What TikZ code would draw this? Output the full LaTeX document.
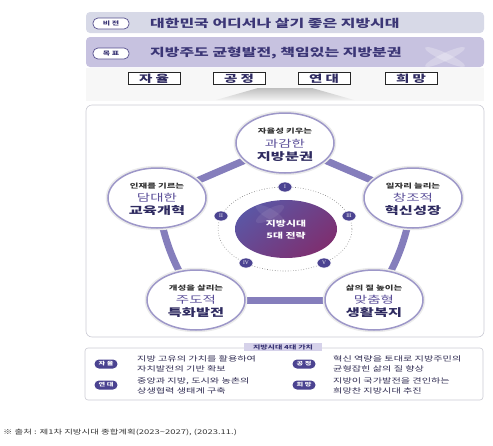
\documentclass[tikz,border=0pt]{standalone}
\usepackage{fontspec}
\setmainfont{Noto Sans CJK KR}[FakeStretch=1.45]
\newfontfamily\numfont{Liberation Serif}
\usetikzlibrary{shapes.geometric}
\definecolor{bnA}{HTML}{D7D9E7}
\definecolor{bnB}{HTML}{C7C2E0}
\definecolor{ttl}{HTML}{3B3676}
\definecolor{pillb}{HTML}{57508E}
\definecolor{cbord}{HTML}{9D97C8}
\definecolor{bandc}{HTML}{857EBC}
\definecolor{glow}{HTML}{DAD9E6}
\definecolor{dk}{HTML}{2E2A60}
\definecolor{mid}{HTML}{5B4F99}
\definecolor{mark}{HTML}{4B4391}
\definecolor{boxl}{HTML}{CBCBD4}
\definecolor{tabc}{HTML}{D6D2EA}
\definecolor{txt}{HTML}{302C52}
\definecolor{discA}{HTML}{5C56A4}
\definecolor{discB}{HTML}{7E2F70}
\pgfdeclareradialshading{ringglow}{\pgfpoint{0bp}{0bp}}{color(0bp)=(white); color(28bp)=(white); color(38bp)=(glow); color(45bp)=(glow!70!white); color(50bp)=(white)}
\tikzset{
  banner/.style={rectangle, rounded corners=4pt, inner sep=0pt, minimum width=398pt},
  tagpill/.style={rectangle, rounded corners=5pt, draw=pillb, line width=0.7pt, fill=white, minimum width=36pt, minimum height=11pt, inner sep=0pt, text=ttl, font=\fontsize{5.5}{6}\selectfont\bfseries},
  headline/.style={anchor=west, inner sep=0pt, text=ttl, font=\fontsize{11}{12}\selectfont\bfseries},
  valbox/.style={rectangle, draw=black!85, line width=0.8pt, fill=white, minimum width=52pt, minimum height=12pt, inner sep=0pt, text=dk, font=\fontsize{10}{11}\selectfont\bfseries},
  bubble/.style={ellipse, draw=cbord, line width=1.5pt, fill=white, minimum width=98pt, minimum height=60pt, inner sep=0pt, preaction={draw=black!8, line width=4.5pt}},
  band/.style={line width=7pt, draw=bandc},
  lineA/.style={inner sep=0pt, text=black!80, font=\fontsize{6.5}{7}\selectfont\bfseries},
  lineB/.style={inner sep=0pt, text=mid, font=\fontsize{10}{11}\selectfont},
  lineC/.style={inner sep=0pt, text=dk, font=\fontsize{10.5}{11}\selectfont\bfseries},
  marker/.style={ellipse, fill=mark, draw=white, line width=0.6pt, minimum width=14pt, minimum height=10pt, inner sep=0pt, text=white, font=\fontsize{5.5}{6}\selectfont\numfont},
  valpill/.style={rectangle, rounded corners=4.5pt, fill=mark, minimum width=23pt, minimum height=9pt, inner sep=0pt, text=white, font=\fontsize{5}{6}\selectfont\bfseries},
  desc/.style={anchor=west, inner sep=0pt, text=txt, font=\fontsize{7}{8}\selectfont}
}
\begin{document}
\begin{tikzpicture}[x=1pt,y=-1pt]
\useasboundingbox (0,0) rectangle (493,445);
% banners
\node[banner, fill=bnA, minimum height=21pt] (vban) at (285,22.5) {};
\node[banner, fill=bnB, minimum height=30pt] (gban) at (285,52) {};
\fill[white, opacity=0.25, rotate around={-25:(445,57)}] (445,57) ellipse [x radius=22, y radius=4];
\fill[white, opacity=0.25, rotate around={25:(445,57)}] (445,57) ellipse [x radius=22, y radius=4];
\node[tagpill] (vtag) at (111,23.5) {비 전};
\node[tagpill] (gtag) at (111,53.5) {목 표};
\node[headline] (vtxt) at (150,23) {대한민국 어디서나 살기 좋은 지방시대};
\node[headline] (gtxt) at (150,53) {지방주도 균형발전, 책임있는 지방분권};
% value strip
\fill[black!3] (86,68) rectangle (484,101);
\node[valbox] (v1) at (154,78.5) {자 율};
\node[valbox] (v2) at (239,78.5) {공 정};
\node[valbox] (v3) at (324,78.5) {연 대};
\node[valbox] (v4) at (411,78.5) {희 망};
\shade[top color=black!25, bottom color=black!5] (258,88) -- (312,88) -- (354,100) -- (216,100) -- cycle;
% main box
\node[rectangle, rounded corners=6pt, draw=boxl, line width=0.6pt, fill=white, minimum width=398pt, minimum height=232pt, inner sep=0pt] (mainbox) at (285,221) {};
\shade[shading=ringglow] (285,228) ellipse [x radius=158, y radius=96];
% pentagon coordinates
\coordinate (cT) at (285,143);
\coordinate (cR) at (413,198);
\coordinate (cL) at (157,198);
\coordinate (cBR) at (374,300);
\coordinate (cBL) at (196,300);
\draw[band] (cT) -- (cR);
\draw[band] (cR) to[bend left=12] (cBR);
\draw[band] (cBR) -- (cBL);
\draw[band] (cBL) to[bend left=12] (cL);
\draw[band] (cL) -- (cT);
% inner ring
\draw[black!55, dotted, line width=0.6pt] (285,229) ellipse [x radius=67, y radius=42];
\shade[top color=discA, bottom color=discB, shading angle=40] (286,229) ellipse [x radius=51, y radius=29];
\fill[white, opacity=0.08, rotate around={-30:(270,214)}] (270,214) ellipse [x radius=16, y radius=5];
\fill[white, opacity=0.08, rotate around={30:(270,214)}] (270,214) ellipse [x radius=16, y radius=5];
\node[ellipse, minimum width=102pt, minimum height=58pt, inner sep=0pt, align=center, text=white, font=\fontsize{7.5}{12}\selectfont\bfseries] (disc) at (286,230) {지방시대\\5대 전략};
\node[marker] (m1) at (285,187) {I};
\node[marker] (m2) at (221,216) {II};
\node[marker] (m3) at (349,216) {III};
\node[marker] (m4) at (246,263) {IV};
\node[marker] (m5) at (324,263) {V};
% bubbles
\node[bubble] (bT) at (cT) {};
\node[bubble] (bR) at (cR) {};
\node[bubble] (bL) at (cL) {};
\node[bubble] (bBR) at (cBR) {};
\node[bubble] (bBL) at (cBL) {};
\node[lineA] (tT1) at (285,131) {자율성 키우는};
\node[lineB] (tT2) at (285,144) {과감한};
\node[lineC] (tT3) at (285,157) {지방분권};
\node[lineA] (tR1) at (413,186) {일자리 늘리는};
\node[lineB] (tR2) at (413,198) {창조적};
\node[lineC] (tR3) at (413,210.5) {혁신성장};
\node[lineA] (tL1) at (157,186) {인재를 기르는};
\node[lineB] (tL2) at (157,198) {담대한};
\node[lineC] (tL3) at (157,210.5) {교육개혁};
\node[lineA] (tBL1) at (196,288) {개성을 살리는};
\node[lineB] (tBL2) at (196,300) {주도적};
\node[lineC] (tBL3) at (196,312.5) {특화발전};
\node[lineA] (tBR1) at (374,288) {삶의 질 높이는};
\node[lineB] (tBR2) at (374,300) {맞춤형};
\node[lineC] (tBR3) at (374,312.5) {생활복지};
% values box
\node[rectangle, rounded corners=3pt, draw=boxl, line width=0.6pt, fill=white, minimum width=398pt, minimum height=52pt, inner sep=0pt] (valbox) at (284,374) {};
\node[rectangle, fill=tabc, minimum width=78pt, minimum height=8pt, inner sep=0pt, text=ttl, font=\fontsize{5.5}{6}\selectfont\bfseries] (tab) at (283,347) {지방시대 4대 가치};
\node[valpill] (p1) at (106,364) {자 율};
\node[valpill] (p2) at (304,364) {공 정};
\node[valpill] (p3) at (106,385) {연 대};
\node[valpill] (p4) at (304,385) {희 망};
\node[desc] (d1a) at (137,358.5) {지방 고유의 가치를 활용하여};
\node[desc] (d1b) at (137,368.5) {자치발전의 기반 확보};
\node[desc] (d2a) at (333,358.5) {혁신 역량을 토대로 지방주민의};
\node[desc] (d2b) at (333,368.5) {균형잡힌 삶의 질 향상};
\node[desc] (d3a) at (137,381) {중앙과 지방, 도시와 농촌의};
\node[desc] (d3b) at (137,391) {상생협력 생태계 구축};
\node[desc] (d4a) at (333,381) {지방이 국가발전을 견인하는};
\node[desc] (d4b) at (333,391) {희망찬 지방시대 추진};
% footer
\node[anchor=west, inner sep=0pt, text=black!80, font=\fontsize{6.5}{7}\selectfont] (src) at (3,432) {※ 출처 : 제1차 지방시대 종합계획(2023\textasciitilde2027), (2023.11.)};
\end{tikzpicture}
\end{document}
